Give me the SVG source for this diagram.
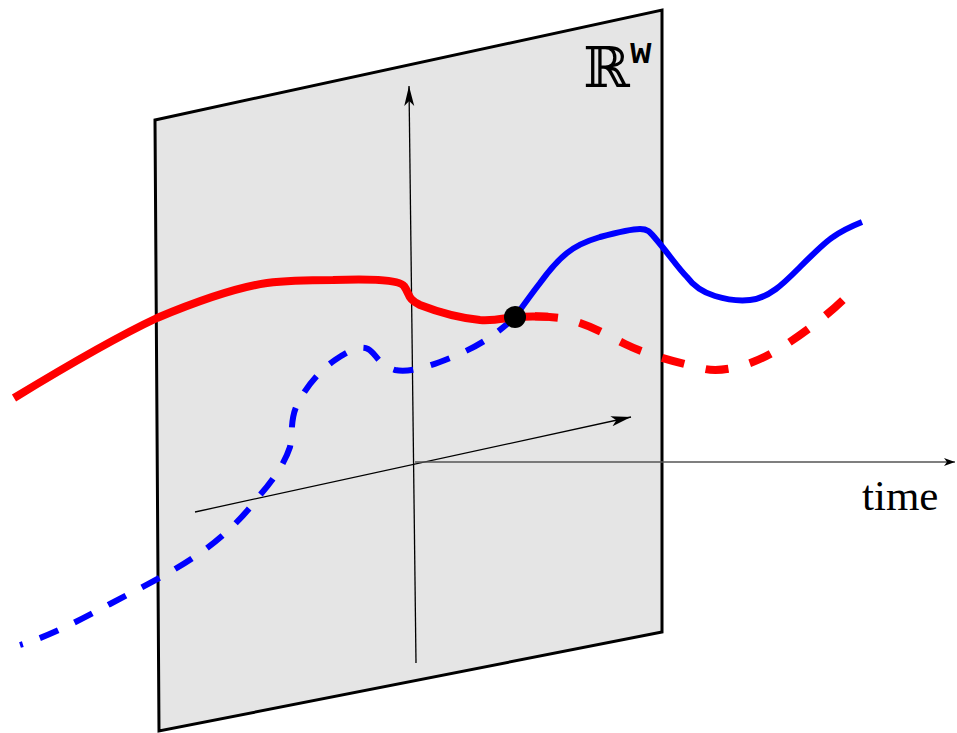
<svg xmlns="http://www.w3.org/2000/svg" width="957" height="733" viewBox="0 0 957 733">
<style>
.plane{fill:#e5e5e5;stroke:#000;stroke-width:3;stroke-linejoin:miter}
.axis{fill:none;stroke:#000;stroke-width:1.3}
.taxis{fill:none;stroke:#555;stroke-width:1.6}
.red{fill:none;stroke:#ff0000;stroke-width:8}
.blue{fill:none;stroke:#0000ff;stroke-width:6}
.reddash{stroke-dasharray:23 22;stroke-dashoffset:-20}
.bluedash{stroke-dasharray:20 18;stroke-dashoffset:17}
.lbl{font-family:"Liberation Serif",serif;font-size:43px;fill:#000}
</style>
<defs>
<marker id="arr" markerUnits="userSpaceOnUse" markerWidth="24" markerHeight="14" refX="20" refY="5" orient="auto">
<path d="M0,0 L20,5 L0,10 L5,5 Z" fill="#000"/>
</marker>
<marker id="arrs" markerUnits="userSpaceOnUse" markerWidth="14" markerHeight="10" refX="11" refY="4" orient="auto">
<path d="M0,0 L11,4 L0,8 L3,4 Z" fill="#000"/>
</marker>
</defs>
<g id="plane">
<path class="plane" d="M155,120 L662,10 L662,632 L159,731 Z"/>
<text x="583" y="87" style="font-family:'DejaVu Serif','DejaVu Sans',serif;font-size:56px;fill:#000">ℝ</text>
<text x="630" y="63" style="font-family:'Liberation Mono',monospace;font-weight:bold;font-size:36px;fill:#000">w</text>
</g>
<g id="axes">
<path class="axis" d="M416,663 L409,86" marker-end="url(#arr)"/>
<path class="axis" d="M195,512 L631,417" marker-end="url(#arr)"/>
<path class="taxis" d="M415,462 L955,462" marker-end="url(#arrs)"/>
<text class="lbl" x="862" y="510">time</text>
</g>
<g id="curves">
<path class="blue bluedash" d="M20,645 C50,636 80,620 110,604 C140,588 170,574 200,553 C225,536 245,515 260,495 C275,478 285,462 290,447 C293,432 290,420 297,405 C305,388 320,370 335,360 C348,351 360,345 368,349 C376,353 378,365 395,370 C410,373 430,366 450,358 C475,348 495,336 515,317"/>
<path class="red reddash" d="M515,317 C530,316 545,316 560,318 C585,322 605,334 625,344 C645,354 675,362 705,369 C720,372 745,368 772,353 C795,340 825,318 847,296"/>
<path class="red" d="M14,398 C60,370 110,340 157,318 C200,300 240,287 267,283 C290,280 310,280 333,280 C365,279 398,279 404,286 C410,294 407,299 420,305 C438,312 460,318 480,320 C495,321 505,318 515,317 C526,316.3 537,316.3 548,316.8"/>
<path class="blue" d="M515,317 C525,303 533,292 540,283 C548,272 557,261 567,253 C578,244 590,240 600,237 C615,233 630,229 640,229 C648,229 650,232 655,238 C668,253 678,268 687,277 C695,288 705,293 715,296 C728,300 740,301 750,300 C770,298 785,282 800,267 C815,252 825,242 833,237 C843,230 852,226 862,222"/>
</g>
<g id="point">
<circle cx="515" cy="317" r="11" fill="#000"/>
</g>
</svg>
